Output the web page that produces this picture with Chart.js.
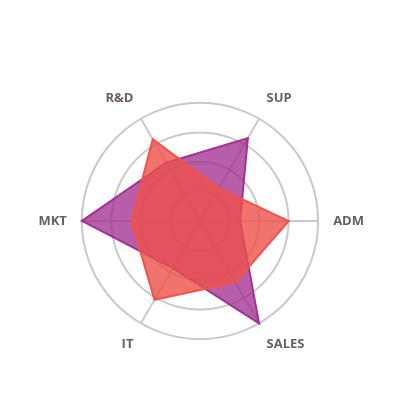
<!doctype html>
<html lang="en">
<head>
  <meta charset="utf-8">
  <title>Radar</title>
  <style>
    * { margin: 0; padding: 0; }
    body { background: #fff; }
    .chartBox { width: 400px; height: 400px; }
  </style>
</head>
<body>
  <div class="chartBox">
    <canvas id="myChart"></canvas>
  </div>
  <script src="https://cdn.jsdelivr.net/npm/chart.js"></script>
  <script>
    // setup
    const labels = ['SUP', 'ADM', 'SALES', 'IT', 'MKT', 'R&D'];
    const redValues = [32, 75, 60, 77, 58, 80];
    const purpleValues = [81, 34, 100, 46, 100, 57];
    const ticks = [0, 25, 50, 75, 100];

    const data = {
      labels: labels,
      datasets: [{
          label: 'A',
          data: redValues,
          backgroundColor: 'rgba(236, 80, 74, 0.8)',
          borderColor: 'rgba(240, 82, 76, 1)',
          borderWidth: 2,
          pointRadius: 0
        },
        {
          label: 'B',
          data: purpleValues,
          backgroundColor: 'rgba(160, 40, 140, 0.75)',
          borderColor: 'rgba(160, 50, 150, 1)',
          borderWidth: 2,
          pointRadius: 0
        }
      ]
    };

    // config
    const config = {
      type: 'radar',
      data,
      options: {
        responsive: true,
        maintainAspectRatio: false,
        animation: false,
        layout: { padding: { left: 38, right: 34, top: 57, bottom: 15 } },
        plugins: {
          legend: { display: false },
          tooltip: { enabled: false }
        },
        scales: {
          r: {
            min: ticks[0],
            max: ticks[ticks.length - 1],
            startAngle: 30,
            ticks: { display: false, stepSize: ticks[1] - ticks[0] },
            grid: { circular: true, color: '#cdc8c5', lineWidth: 2 },
            angleLines: { color: '#cdc8c5', lineWidth: 2 },
            pointLabels: {
              padding: 15,
              color: '#6a5f5f',
              font: { family: 'Open Sans', size: 13, weight: 'bold' }
            }
          }
        }
      }
    };

    // render init block
    const myChart = new Chart(document.getElementById('myChart'), config);
  </script>
</body>
</html>
